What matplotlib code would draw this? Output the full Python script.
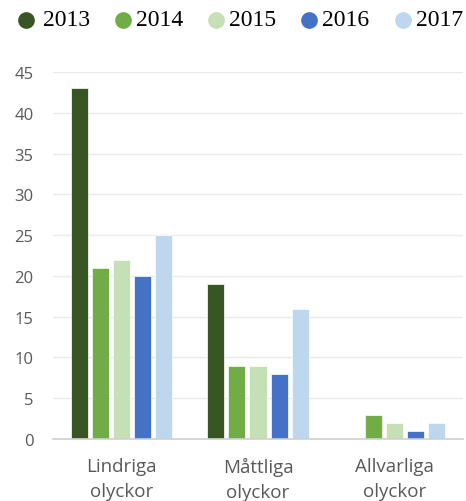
import matplotlib
matplotlib.use("Agg")
import matplotlib.pyplot as plt
from matplotlib.lines import Line2D
import numpy as np

categories = ["Lindriga\nolyckor", "Måttliga\nolyckor", "Allvarliga\nolyckor"]
years = ["2013", "2014", "2015", "2016", "2017"]
values = {
    "2013": [43, 19, 0],
    "2014": [21, 9, 3],
    "2015": [22, 9, 2],
    "2016": [20, 8, 1],
    "2017": [25, 16, 2],
}
colors = ["#375623", "#70AD47", "#C5E0B4", "#4472C4", "#BDD7EE"]
yticks = [0, 5, 10, 15, 20, 25, 30, 35, 40, 45]

W, H = 466, 502
fig = plt.figure(figsize=(W / 100, H / 100), dpi=100)
ax = fig.add_axes([53 / W, 62 / H, 410 / W, 367 / H])

x = np.arange(len(categories))
step = 0.154
width = 0.125
for i, (yr, c) in enumerate(zip(years, colors)):
    ax.bar(x + (i - 2) * step, values[yr], width=width, color=c, zorder=3,
           edgecolor="white", linewidth=0.5)

ax.set_xlim(-0.5, 2.5)
ax.set_ylim(0, 45)
ax.set_yticks(yticks)
ax.set_xticks(x)
ax.set_xticklabels(categories, fontsize=13.5, color="#595959", family="Open Sans", linespacing=1.5)
for lab in ax.get_yticklabels():
    lab.set_fontsize(12)
    lab.set_color("#595959")
    lab.set_family("Open Sans")
ax.tick_params(axis="both", length=0)
ax.tick_params(axis="y", pad=14)
ax.tick_params(axis="x", pad=13)
ax.grid(axis="y", color="#EAEAEA", linewidth=1, zorder=0)
for s in ["top", "right", "left"]:
    ax.spines[s].set_visible(False)
ax.spines["bottom"].set_color("#D0D0D0")
ax.spines["bottom"].set_linewidth(1.2)
ax.spines["bottom"].set_zorder(4)

# manual legend
marker_x = [26, 123, 216, 309, 403]
text_x = [43, 136, 229, 322, 416]
ly = 21
for mx, tx, c, yr in zip(marker_x, text_x, colors, years):
    fig.add_artist(Line2D([mx / W], [1 - ly / H], marker="o", markersize=11,
                          markerfacecolor=c, markeredgecolor=c, linestyle="none",
                          transform=fig.transFigure))
    fig.text(tx / W, 1 - ly / H, yr, ha="left", va="center",
             family="Liberation Serif", fontsize=17, color="black")

fig.savefig("out.png", dpi=100)
